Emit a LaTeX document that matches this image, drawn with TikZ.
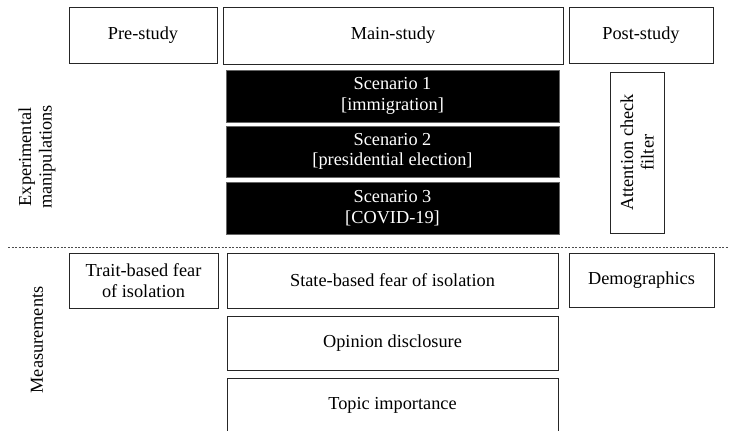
\documentclass[tikz,border=0pt]{standalone}
\usepackage{fontspec}
\setmainfont{Liberation Serif}
\usepackage{tikz}
\tikzstyle{phase} = [rectangle, draw=black!85, line width=0.8pt, text centered, inner sep=0pt, font=\fontsize{18.3}{20.5}\selectfont]
\tikzstyle{scenario} = [phase, fill=black, draw=black!60, text=white, align=center]
\tikzstyle{measure} = [phase, align=center]
\tikzstyle{sidelabel} = [rotate=90, align=center, font=\fontsize{18.3}{20.5}\selectfont]
\tikzstyle{divider} = [black!70, line width=0.6pt, dash pattern=on 2pt off 1.5pt]

\begin{document}
\begin{tikzpicture}[x=1pt, y=-1pt]
            \clip (0,0) rectangle (729,431);
            \node [phase, minimum width=148pt, minimum height=56pt] at (143,35) (pre) {Pre-study};
            \node [phase, minimum width=340pt, minimum height=57pt] at (393,35.5) (main) {Main-study};
            \node [phase, minimum width=144pt, minimum height=56pt] at (641,35) (post) {Post-study};
            \node [scenario, minimum width=333pt, minimum height=52pt] at (392.5,96) (sc1) {Scenario 1\\{}[immigration]};
            \node [scenario, minimum width=333pt, minimum height=51pt] at (392.5,151.5) (sc2) {Scenario 2\\{}[presidential election]};
            \node [scenario, minimum width=333pt, minimum height=52pt] at (392.5,208) (sc3) {Scenario 3\\{}[COVID-19]};
            \node [measure, rotate=90, minimum width=161pt, minimum height=54pt] at (637,152.5) (attn) {Attention check\\filter};
            \node [sidelabel] at (37,157) (expman) {Experimental\\manipulations};
            \coordinate (divl) at (8,247);
            \coordinate (divr) at (729,247);
            \draw [divider] (divl) -- (divr);
            \node [measure, minimum width=149pt, minimum height=55pt] at (143.5,280.5) (trait) {Trait-based fear\\of isolation};
            \node [measure, minimum width=331pt, minimum height=55pt] at (392.5,280.5) (state) {State-based fear of isolation};
            \node [measure, minimum width=331pt, minimum height=54pt] at (392.5,343) (opinion) {Opinion disclosure};
            \node [measure, minimum width=331pt, minimum height=54pt] at (392.5,405) (topic) {Topic importance};
            \node [measure, minimum width=145pt, minimum height=54pt] at (641.5,280) (demo) {Demographics};
            \node [sidelabel] at (37,340) (meas) {Measurements};
            \end{tikzpicture}
\end{document}
